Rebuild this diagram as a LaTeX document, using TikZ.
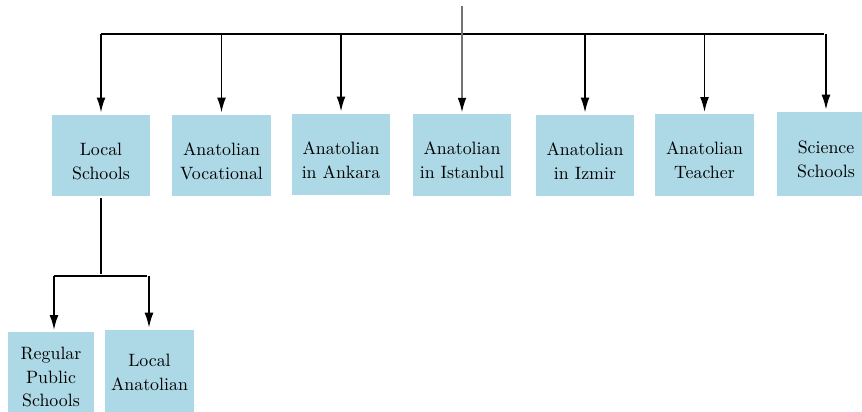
\documentclass[tikz,border=0pt]{standalone}
\usepackage{tikz}
\usetikzlibrary{arrows.meta}
\usetikzlibrary{calc}
\definecolor{boxblue}{RGB}{173,216,230}

\begin{document}
\begin{tikzpicture}[x=0.56pt, y=-0.56pt, shorten >=1pt,
        box_style/.style={fill=boxblue, align=center, inner sep=2pt, minimum width=55pt, minimum height=45.5pt,
            font=\fontsize{10}{13.4}\selectfont},
        top_box_style/.style={box_style, text height=26.8pt},
        edge_style/.style={draw=black, line width=1.1pt, -{Latex[length=8.5pt,width=5pt]}},
        bar_style/.style={draw=black, line width=1.1pt},
        root_edge_style/.style={draw=black!55, line width=0.7pt, -{Latex[length=8pt,width=4.8pt,color=black]}}]

        \useasboundingbox (0,0) rectangle (862,411);

        \node [top_box_style](local) at (101,155.5) {Local\\Schools};

        \node [top_box_style](vocational) at (221.5,155.5) {Anatolian\\Vocational};

        \node [top_box_style](ankara) at (341,154.5) {Anatolian\\in Ankara};

        \node [top_box_style](istanbul) at (462,155) {Anatolian\\in Istanbul};

        \node [top_box_style](izmir) at (585,155.5) {Anatolian\\in Izmir};

        \node [top_box_style](teacher) at (704.5,155) {Anatolian\\Teacher};

        \node [top_box_style, minimum height=47pt](science) at (826,154) {Science\\Schools};

        \node [box_style, minimum width=48pt, minimum height=50pt](regular) at (51,377) {Regular\\Public\\Schools};

        \node [box_style, minimum width=50pt, minimum height=47pt](localana) at (149.5,372) {Local\\Anatolian};

        % top bar
        \coordinate (top) at (462,6);
        \coordinate (barL) at (101,34);
        \coordinate (barR) at (826,34);
        \draw [bar_style] (barL) -- (barR);

        \draw [root_edge_style] (top) -- (istanbul.north);

        \foreach \n in {local,vocational,ankara,izmir,teacher,science}
            \draw [edge_style] (\n.north |- barL) -- (\n.north);

        % local schools branch
        \coordinate (split) at (101,276);
        \coordinate (splitL) at (54,276);
        \coordinate (splitR) at (149,276);
        \draw [bar_style] ($(local.south)+(0,2)$) -- (split);
        \draw [bar_style] (splitL) -- (splitR);

        \draw [edge_style] (splitL) -- (splitL |- regular.north);

        \draw [edge_style] (splitR) -- (splitR |- localana.north);

\end{tikzpicture}
\end{document}
